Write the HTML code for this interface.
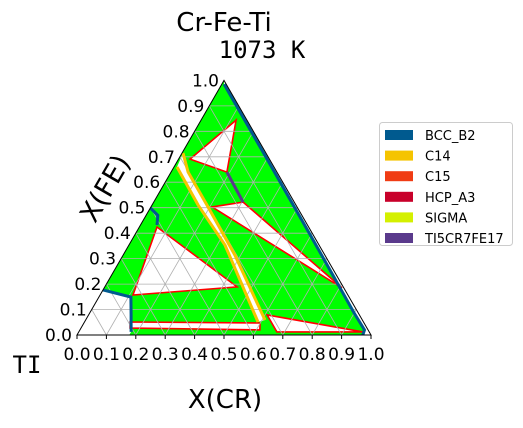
<!DOCTYPE html>
<html><head><meta charset="utf-8"><style>
body{margin:0;background:#fff;}
svg text{font-family:"DejaVu Sans","Liberation Sans",sans-serif;}
</style></head><body>
<svg id="chart" width="523" height="423" viewBox="0 0 523 423" xmlns="http://www.w3.org/2000/svg">
<text x="224" y="31" font-size="26" text-anchor="middle">Cr-Fe-Ti</text>
<text x="262" y="58" font-size="24" text-anchor="middle" style="font-family:'DejaVu Sans Mono','Liberation Mono',monospace">1073 K</text>
<g id="plot"></g>
<text x="225" y="408" font-size="26" text-anchor="middle">X(CR)</text>
<text x="27" y="373" font-size="24" text-anchor="middle" style="font-family:'DejaVu Sans Mono','Liberation Mono',monospace">TI</text>
<text x="0" y="0" font-size="27" text-anchor="middle" transform="translate(113,193) rotate(-60)">X(FE)</text>
<g>
<rect x="379.5" y="122.5" width="133" height="123" rx="3" fill="#fff" stroke="#ccc"/>
<g id="legend-items"></g>
</g>
</svg>
<script>
const phaseNames=["BCC_B2","C14","C15","HCP_A3","SIGMA","TI5CR7FE17"];
const phaseColors=["#005a8f","#f5c400","#f03c14","#c8002a","#d4f000","#5a3a8c"];
const ticks=[0,0.1,0.2,0.3,0.4,0.5,0.6,0.7,0.8,0.9,1.0];
const triUpper=[[0.119,0.844],[0.039,0.691],[0.190,0.640]];
const triMiddle=[[0.208,0.503],[0.304,0.522],[0.809,0.185]];
const triLeft=[[0.060,0.424],[0.112,0.157],[0.450,0.189]];
const stripBottom=[[0.155,0.051],[0.599,0.047],[0.612,0.020],[0.167,0.027]];
const stripRight=[[0.607,0.079],[0.967,0.012],[0.674,0.012]];
const c14Left=[[0.010,0.660],[0.156,0.511],[0.327,0.353],[0.590,0.051]];
const c14Right=[[0.003,0.715],[0.058,0.640],[0.194,0.503],[0.380,0.314],[0.610,0.059]];
const tiCorner=[[0,0.177],[0.109,0.149],[0.144,0.08],[0.178,0.012],[0.178,0]];
const bccLine=[[0.008,0.985],[0.3,0.692],[0.6,0.39],[0.9,0.086],[0.968,0.02],[0.972,0.0]];
const bccLeft=[[0,0.499],[0.04,0.47],[0.056,0.432]];
const tie=[[0.190,0.640],[0.304,0.522]];

const X0=77,Y0=335,S=294,H=254.6;
function px(a,b){return X0+S*(a+b/2);}
function py(a,b){return Y0-H*b;}
function pts(arr){return arr.map(p=>px(p[0],p[1]).toFixed(1)+","+py(p[0],p[1]).toFixed(1)).join(" ");}
const NS="http://www.w3.org/2000/svg";
const plot=document.getElementById("plot");
function mk(tag,attrs,parent){const e=document.createElementNS(NS,tag);for(const k in attrs)e.setAttribute(k,attrs[k]);(parent||plot).appendChild(e);return e;}

let e;
e=mk("polygon",{points:pts([[0,0],[1,0],[0,1]]),fill:"#00ff00"});


e=mk("polygon",{points:pts([[0,1]].concat(bccLine).concat([[1,0]])),fill:"#fff"});


e=mk("polygon",{points:pts([[0,0]].concat(tiCorner)),fill:"#fff"});


e=mk("polygon",{points:pts(c14Left.concat(c14Right.slice().reverse())),fill:"#fff"});


[[triUpper,'three-phase-upper'],[triMiddle,'three-phase-middle'],[triLeft,'three-phase-left'],[stripBottom,'three-phase-bottom'],[stripRight,'three-phase-right']].forEach(r=>{
  const el=mk("polygon",{points:pts(r[0]),fill:"#fff",stroke:"#ff0000","stroke-width":1.6});
  
  
});
ticks.slice(1,10).forEach(t=>{
  const g1=mk("polyline",{points:pts([[0,t],[1-t,t]]),stroke:"#b0b0b0","stroke-width":0.8,fill:"none"});
  
  
  const g2=mk("polyline",{points:pts([[t,0],[t,1-t]]),stroke:"#b0b0b0","stroke-width":0.8,fill:"none"});
  
  
  const g3=mk("polyline",{points:pts([[t,0],[0,t]]),stroke:"#b0b0b0","stroke-width":0.8,fill:"none"});
  
  
});
e=mk("polyline",{points:pts(c14Left),stroke:phaseColors[1],"stroke-width":3,fill:"none"});


e=mk("polyline",{points:pts(c14Right),stroke:phaseColors[1],"stroke-width":3,fill:"none"});


e=mk("polyline",{points:pts(bccLine),stroke:phaseColors[0],"stroke-width":3,fill:"none"});


e=mk("polyline",{points:pts(tiCorner.slice(0,4)),stroke:phaseColors[0],"stroke-width":3,fill:"none"});


e=mk("polyline",{points:pts(bccLeft),stroke:phaseColors[0],"stroke-width":3,fill:"none"});


e=mk("polyline",{points:pts(tie),stroke:phaseColors[5],"stroke-width":3,fill:"none"});


e=mk("polygon",{points:pts([[0,0],[1,0],[0,1]]),fill:"none",stroke:"#000","stroke-width":1});


ticks.forEach(t=>{
  const x=px(t,0);
  const tk=mk("line",{x1:x,y1:Y0,x2:x,y2:Y0+4,stroke:"#000"});
  
  
  const lb=mk("text",{x:x,y:Y0+25,"font-size":17,"text-anchor":"middle"});
  lb.textContent=t.toFixed(1);
  
  
  const ly=mk("text",{x:px(0,t)-5,y:py(0,t)+6,"font-size":17,"text-anchor":"end"});
  ly.textContent=t.toFixed(1);
  
  
});
const lg=document.getElementById("legend-items");
phaseNames.forEach((n,i)=>{
  const y=135+i*20.6;
  const r=mk("rect",{x:385,y:y-5,width:28,height:10,fill:phaseColors[i]},lg);
  
  
  const t=mk("text",{x:425,y:y+5,"font-size":13},lg);
  t.textContent=n;
  
  
});
</script>
</body></html>
